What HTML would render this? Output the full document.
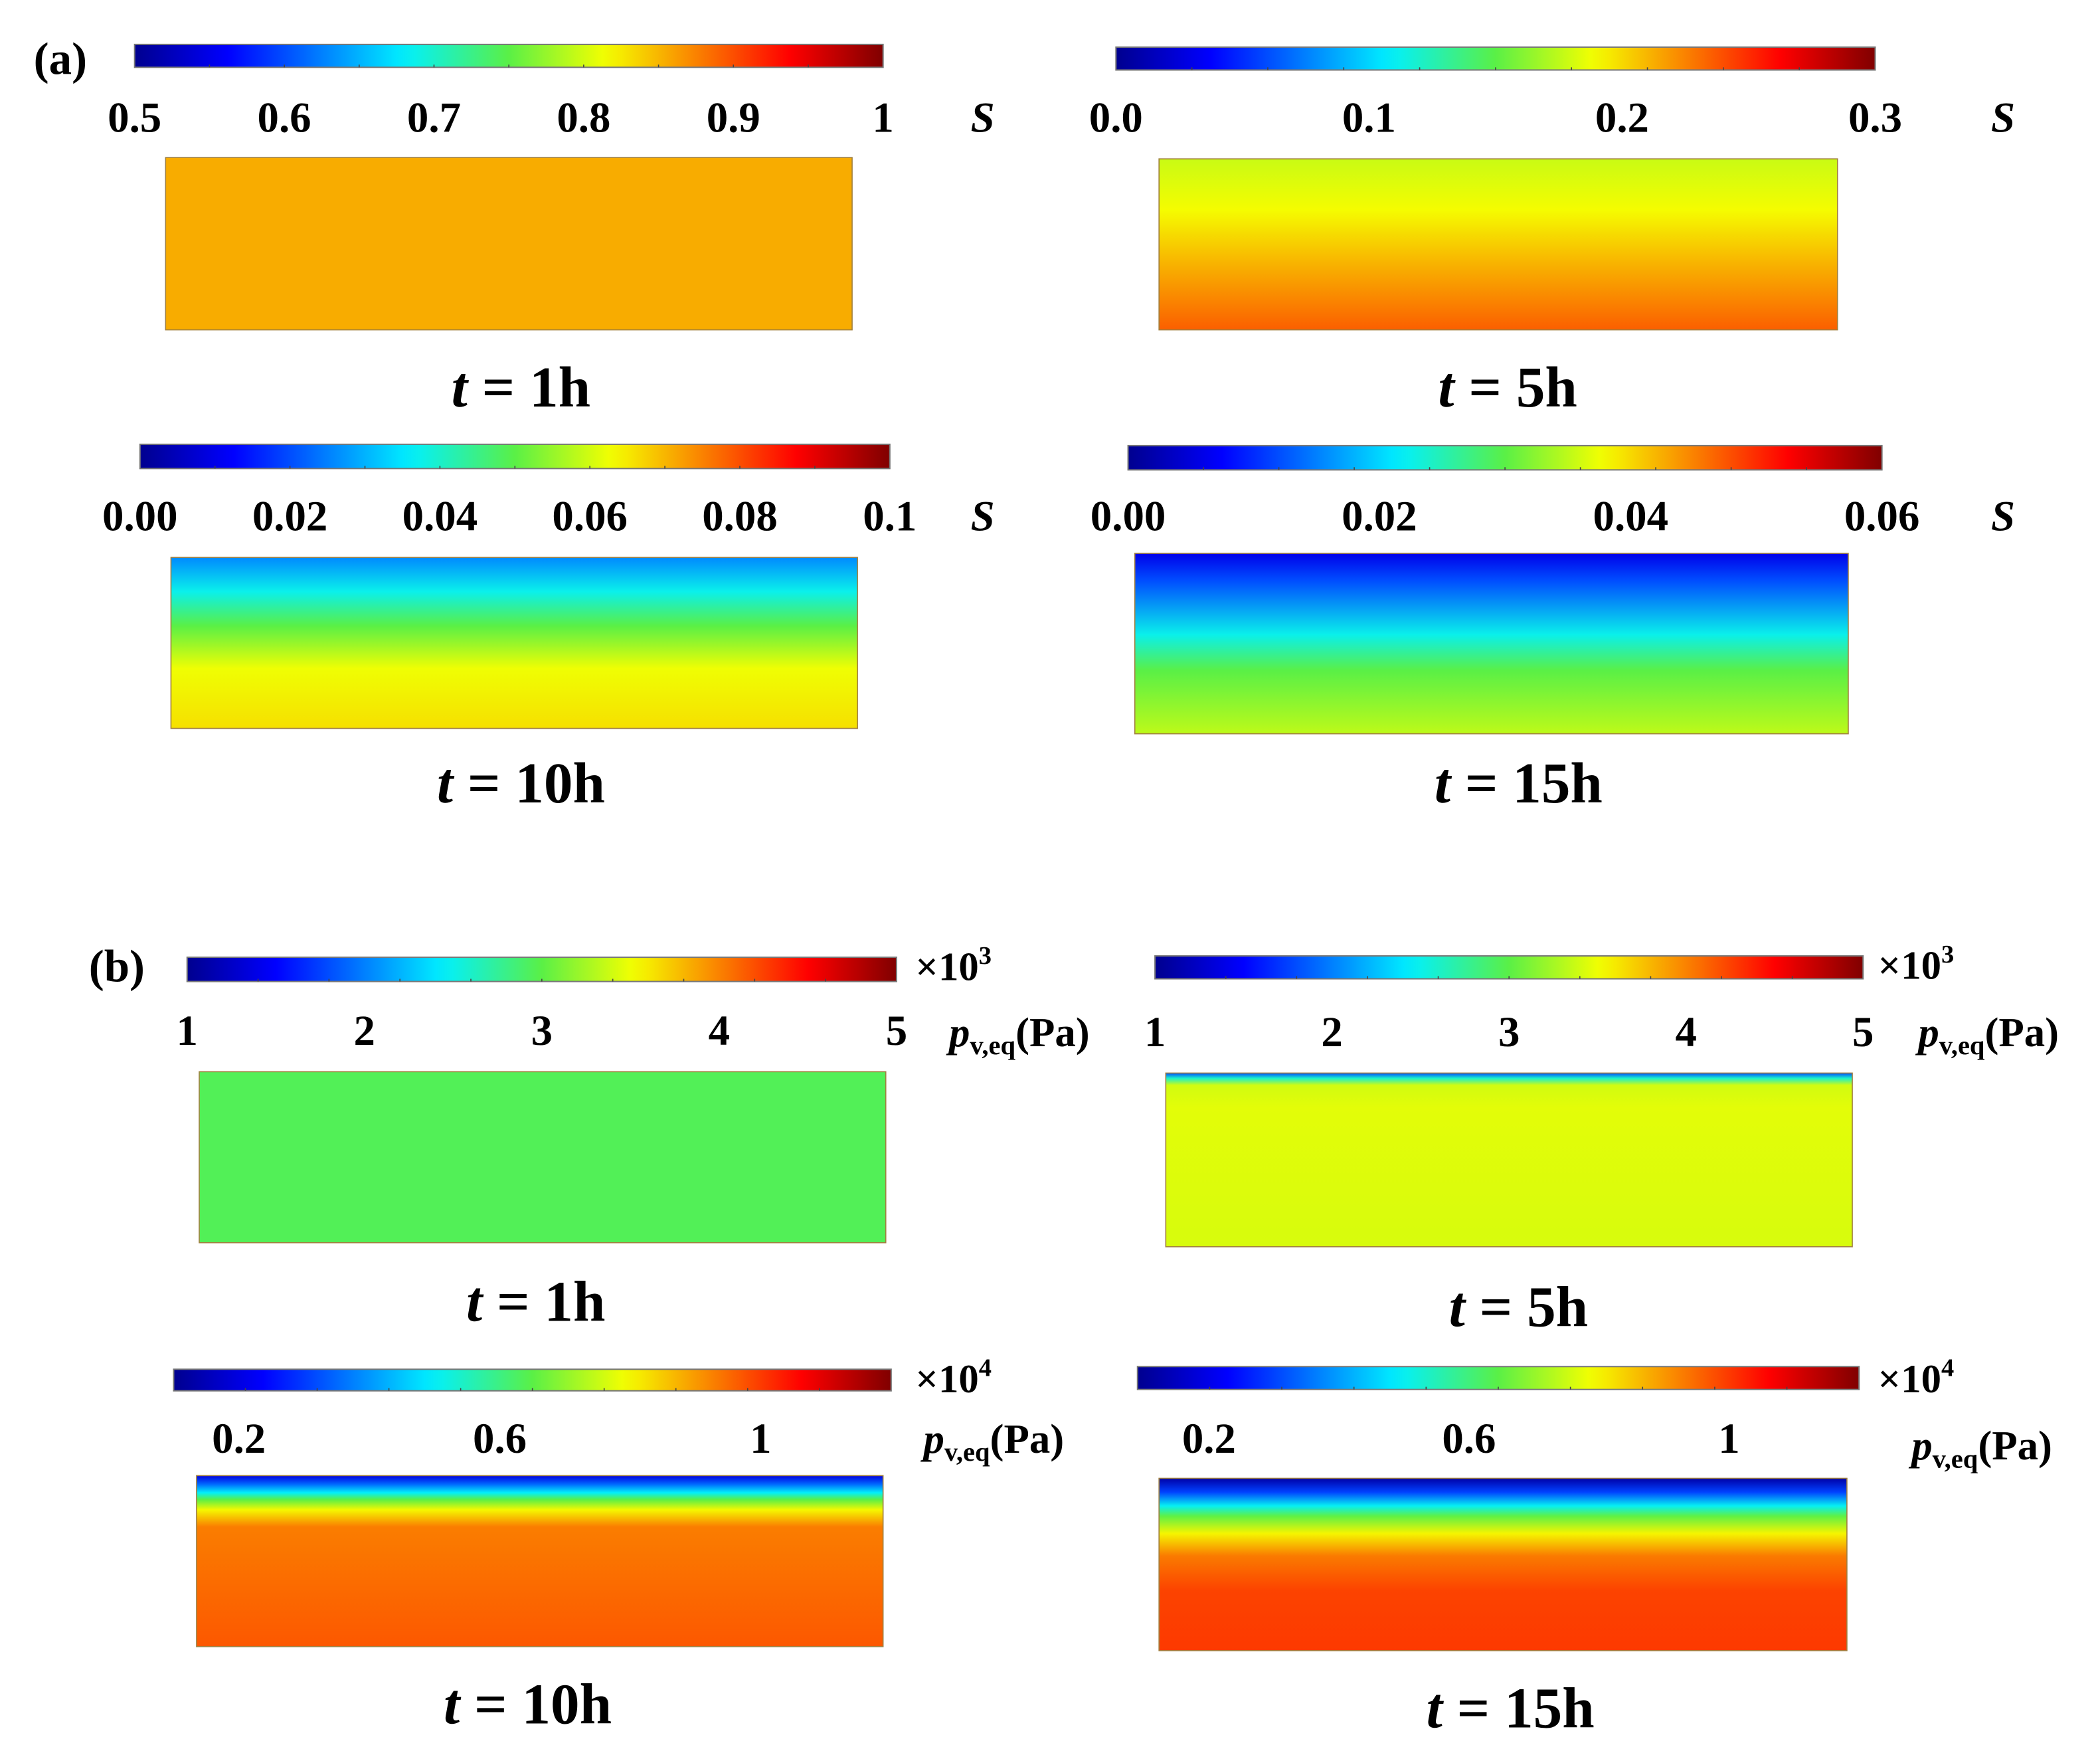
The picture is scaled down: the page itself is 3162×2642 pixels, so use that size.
<!DOCTYPE html>
<html><head><meta charset="utf-8"><style>
html,body{margin:0;padding:0;background:#fff;}
svg{display:block;font-family:"Liberation Serif",serif;font-weight:bold;}
</style></head><body>
<svg id="fig" width="3162" height="2642" viewBox="0 0 1560 1303.5" preserveAspectRatio="none" xmlns="http://www.w3.org/2000/svg">
<defs id="defs"></defs>
<text x="25" y="55" font-size="34">(a)</text>
<text x="66" y="729" font-size="34">(b)</text>
</svg>
<script>
// ---- data ----
const titles = ["t = 1h","t = 5h","t = 10h","t = 15h","t = 1h","t = 5h","t = 10h","t = 15h"];
const rangesMin = [0.5, 0, 0, 0, 1, 1, 0.1, 0.09];
const rangesMax = [1, 0.3, 0.1, 0.06, 5, 5, 1.2, 1.2];
const tickValues = [
  [0.5,0.6,0.7,0.8,0.9,1],
  [0,0.1,0.2,0.3],
  [0,0.02,0.04,0.06,0.08,0.1],
  [0,0.02,0.04,0.06],
  [1,2,3,4,5],
  [1,2,3,4,5],
  [0.2,0.6,1],
  [0.2,0.6,1]
];
const tickLabels = [
  ["0.5","0.6","0.7","0.8","0.9","1"],
  ["0.0","0.1","0.2","0.3"],
  ["0.00","0.02","0.04","0.06","0.08","0.1"],
  ["0.00","0.02","0.04","0.06"],
  ["1","2","3","4","5"],
  ["1","2","3","4","5"],
  ["0.2","0.6","1"],
  ["0.2","0.6","1"]
];
const multipliers = ["","","","","3","3","4","4"];
// field profiles: depth fraction (0 top, 1 bottom) and value
const profileDepth = [
  [0,1],
  [0,0.3,0.6,1],
  [0,0.2,0.4,0.65,1],
  [0,0.15,0.45,0.65,1],
  [0,1],
  [0,0.03,0.07,0.2,1],
  [0,0.05,0.1,0.14,0.2,0.3,1],
  [0,0.08,0.16,0.22,0.32,0.45,0.65,1]
];
const profileValue = [
  [0.855,0.855],
  [0.178,0.19,0.21,0.235],
  [0.026,0.0375,0.05,0.0625,0.066],
  [0.006,0.012,0.0225,0.03,0.035],
  [2.95,2.95],
  [1.8,2.6,3.4,3.46,3.42],
  [0.2,0.35,0.5,0.65,0.8,0.93,0.97],
  [0.12,0.3,0.5,0.65,0.8,0.93,0.99,1.0]
];
// ---- layout ----
const layout = [
  {bar:[100,656,33,50], rect:[123,633,117,245], tickY:98, unitX:730, unitY:98, tx:387, ty:302, unit:"S"},
  {bar:[829,1393,35,52], rect:[861,1365,118,245], tickY:98, unitX:1488, unitY:98, tx:1120, ty:302, unit:"S"},
  {bar:[104,661,330,348], rect:[127,637,414,541], tickY:394, unitX:730, unitY:394, tx:387, ty:596, unit:"S"},
  {bar:[838,1398,331,349], rect:[843,1373,411,545], tickY:394, unitX:1488, unitY:394, tx:1128, ty:596, unit:"S"},
  {bar:[139,666,711,729], rect:[148,658,796,923], tickY:776, unitX:705, unitY:777, tx:398, ty:981, unit:"p", mx:680, my:728},
  {bar:[858,1384,710,727], rect:[866,1376,797,926], tickY:777, unitX:1425, unitY:777, tx:1128, ty:985, unit:"p", mx:1395, my:727},
  {bar:[129,662,1017,1033], rect:[146,656,1096,1223], tickY:1079, unitX:686, unitY:1079, tx:392, ty:1280, unit:"p", mx:680, my:1034},
  {bar:[845,1381,1015,1032], rect:[861,1372,1098,1226], tickY:1079, unitX:1420, unitY:1084, tx:1122, ty:1283, unit:"p", mx:1395, my:1034}
];
const NS="http://www.w3.org/2000/svg";
const svg=document.getElementById('fig'), defs=document.getElementById('defs');
function jet(f){
  f=Math.max(0,Math.min(1,f));
  const s=[[0,0,0,143],[0.125,0,0,255],[0.36,0,240,255],[0.5,90,240,70],[0.63,245,255,0],[0.875,255,0,0],[1,128,0,0]];
  for(let i=1;i<s.length;i++){ if(f<=s[i][0]){const a=s[i-1],b=s[i];const t=(f-a[0])/(b[0]-a[0]);
    return `rgb(${Math.round(a[1]+t*(b[1]-a[1]))},${Math.round(a[2]+t*(b[2]-a[2]))},${Math.round(a[3]+t*(b[3]-a[3]))})`;}}
  return 'rgb(128,0,0)';
}
function el(tag,attrs,parent){const e=document.createElementNS(NS,tag);for(const k in attrs)e.setAttribute(k,attrs[k]);(parent||svg).appendChild(e);return e;}
const jg=el('linearGradient',{id:'jet',x1:0,x2:1,y1:0,y2:0},defs);
for(let i=0;i<=40;i++){el('stop',{offset:i/40,'stop-color':jet(i/40)},jg);}
layout.forEach((L,i)=>{
  const g=el('g',{});
  
  
  const [x0,x1,y0,y1]=L.bar; const vmin=rangesMin[i], vmax=rangesMax[i];
  const xs=v=>x0+(v-vmin)/(vmax-vmin)*(x1-x0);
  const cb=el('rect',{x:x0,y:y0,width:x1-x0,height:y1-y0,fill:'url(#jet)',stroke:'#777','stroke-width':1},g);
  
  
  for(let k=1;k<10;k++){el('line',{x1:x0+k*(x1-x0)/10,x2:x0+k*(x1-x0)/10,y1:y1-2,y2:y1,stroke:'#444','stroke-width':0.8},g);}
  tickValues[i].forEach((v,j)=>{
    const t=el('text',{x:xs(v),y:L.tickY,'font-size':32,'text-anchor':'middle'},g);
    t.textContent=tickLabels[i][j];
    
    
  });
  if(L.unit==='S'){
    const u=el('text',{x:L.unitX,y:L.unitY,'font-size':32,'font-style':'italic','text-anchor':'middle'},g);
    u.textContent='S';
    
    
  } else {
    const u=el('text',{x:L.unitX,y:L.unitY,'font-size':31},g);
    u.innerHTML='<tspan font-style="italic">p</tspan><tspan font-size="20" dy="6">v,eq</tspan><tspan dy="-6">(Pa)</tspan>';
    
    
    const m=el('text',{x:L.mx,y:L.my,'font-size':30},g);
    m.innerHTML='×10<tspan font-size="19" dy="-12">'+multipliers[i]+'</tspan>';
    
    
  }
  const gid='field'+i;
  const fg=el('linearGradient',{id:gid,x1:0,x2:0,y1:0,y2:1},defs);
  profileDepth[i].forEach((d,j)=>{el('stop',{offset:d,'stop-color':jet((profileValue[i][j]-vmin)/(vmax-vmin))},fg);});
  const [rx0,rx1,ry0,ry1]=L.rect;
  const r=el('rect',{x:rx0,y:ry0,width:rx1-rx0,height:ry1-ry0,fill:'url(#'+gid+')',stroke:'#a08040','stroke-width':0.8},g);
  
  
  const tt=el('text',{x:L.tx,y:L.ty,'font-size':43,'text-anchor':'middle'},g);
  const parts=titles[i].split(' ');
  tt.innerHTML='<tspan font-style="italic">'+parts[0]+'</tspan> '+parts.slice(1).join(' ');
  
  
});
</script>
</body></html>
